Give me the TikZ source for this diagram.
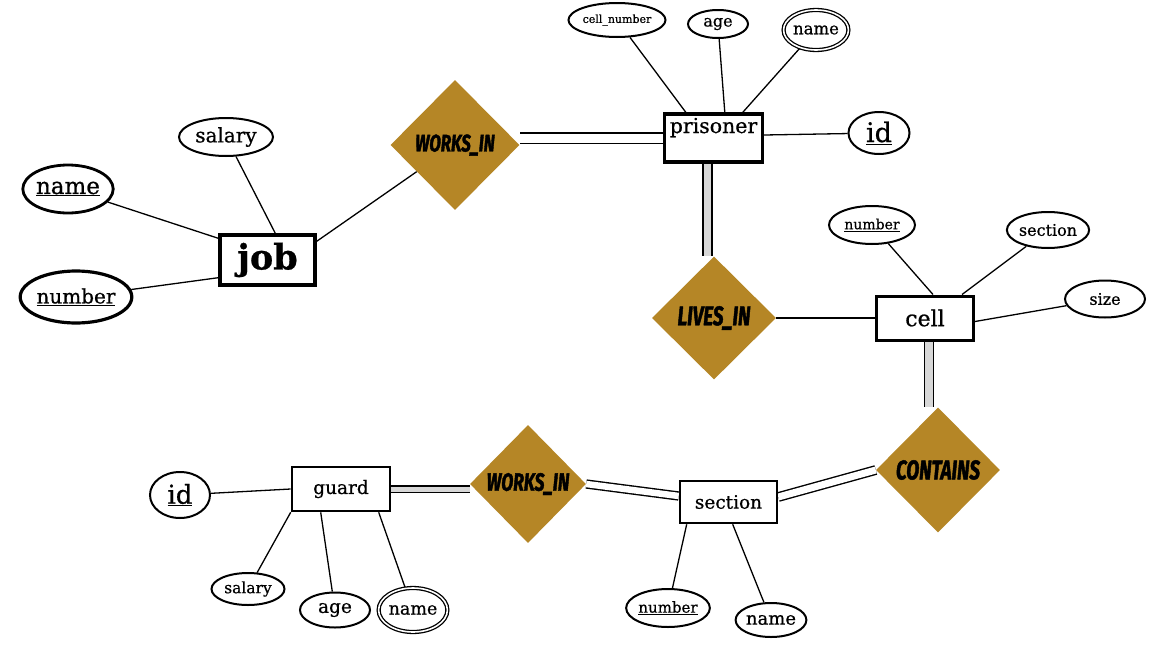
\documentclass[tikz,border=0pt]{standalone}
\usepackage{fontspec}
\setmainfont[FakeBold=0.7]{DejaVu Serif}
\newfontfamily\relfont[FakeStretch=0.7, BoldItalicFeatures={FakeBold=1.6}]{Fira Sans}
\usetikzlibrary{shapes.geometric,backgrounds}
\definecolor{relgold}{RGB}{181,134,38}
\definecolor{coregray}{RGB}{215,215,215}

\tikzset{
  attr/.style={ellipse, draw, line width=2pt, inner sep=0pt},
  multiattr/.style={ellipse, draw, double, double distance=1.6pt, line width=1.3pt, inner sep=0pt},
  entity/.style={rectangle, draw, line width=3pt, inner sep=0pt},
  rel/.style={diamond, fill=relgold, inner sep=0pt},
  link/.style={line width=1.3pt},
  wlink/.style={double, double distance=#1, line width=1.4pt},
  glink/.style={double=coregray, double distance=#1, line width=1.4pt},
}

\begin{document}
\begin{tikzpicture}[x=1pt,y=-1pt]
\useasboundingbox (0,0) rectangle (1152,648);

% entities
\node[entity, line width=3.4pt, minimum width=95pt, minimum height=50pt, font=\fontsize{35}{35}\selectfont\bfseries] (job) at (267.5,260) {job};
\node[entity, line width=3.4pt, minimum width=98pt, minimum height=48pt, text height=16pt, text depth=26pt, font=\fontsize{20.5}{20}\selectfont] (prisoner) at (713.5,138) {prisoner};
\node[entity, minimum width=97pt, minimum height=44pt, font=\fontsize{22}{22}\selectfont] (cell) at (925,318) {cell};
\node[entity, line width=2.6pt, minimum width=97pt, minimum height=42pt, font=\fontsize{18.5}{18}\selectfont] (section) at (728.5,502) {section};
\node[entity, line width=2.6pt, minimum width=98pt, minimum height=44pt, font=\fontsize{18.5}{18}\selectfont] (guard) at (341,489) {guard};

% relationships
\node[rel, minimum width=129pt, minimum height=130pt, font=\relfont\bfseries\itshape\fontsize{24}{24}\selectfont] (worksA) at (455,145) {WORKS\_IN};
\node[rel, minimum width=124pt, minimum height=123pt, font=\relfont\bfseries\itshape\fontsize{27}{27}\selectfont] (lives) at (714,318) {LIVES\_IN};
\node[rel, minimum width=124pt, minimum height=125pt, font=\relfont\bfseries\itshape\fontsize{27}{27}\selectfont] (contains) at (938,470) {CONTAINS};
\node[rel, minimum width=116pt, minimum height=118pt, font=\relfont\bfseries\itshape\fontsize{25}{25}\selectfont] (worksB) at (528,484) {WORKS\_IN};

% attributes of job
\node[attr, minimum width=94pt, minimum height=38pt, font=\fontsize{20}{20}\selectfont] (jsal) at (226,137) {salary};
\node[attr, line width=2.8pt, minimum width=90pt, minimum height=48pt, font=\fontsize{23}{23}\selectfont] (jname) at (68,189) {\underline{name}};
\node[attr, line width=3.2pt, minimum width=104pt, minimum height=52pt, font=\fontsize{20}{20}\selectfont] (jnum) at (76,297) {\underline{number}};

% attributes of prisoner
\node[attr, minimum width=80pt, minimum height=34pt, font=\fontsize{11}{11}\selectfont] (pcn) at (617,20) {cell\_number};
\node[attr, minimum width=60pt, minimum height=28pt, font=\fontsize{16}{16}\selectfont] (page) at (718,24) {age};
\node[multiattr, minimum width=60pt, minimum height=40pt, font=\fontsize{16.5}{16}\selectfont] (pname) at (816,30) {name};
\node[attr, minimum width=61pt, minimum height=42pt, font=\fontsize{27}{27}\selectfont] (pid) at (879,133) {\underline{id}};

% attributes of cell
\node[attr, minimum width=86pt, minimum height=38pt, font=\fontsize{14}{14}\selectfont] (cnum) at (872,225) {\underline{number}};
\node[attr, minimum width=81pt, minimum height=36pt, font=\fontsize{16}{16}\selectfont] (csec) at (1048,230) {section};
\node[attr, minimum width=80pt, minimum height=37pt, font=\fontsize{16}{16}\selectfont] (csize) at (1105,299) {size};

% attributes of guard
\node[attr, minimum width=60pt, minimum height=46pt, font=\fontsize{26}{26}\selectfont] (gid) at (180,495) {\underline{id}};
\node[attr, minimum width=73pt, minimum height=32pt, font=\fontsize{15.5}{15}\selectfont] (gsal) at (248,589) {salary};
\node[attr, minimum width=70pt, minimum height=35pt, font=\fontsize{18.5}{18}\selectfont] (gage) at (335,610) {age};
\node[multiattr, minimum width=64pt, minimum height=44pt, font=\fontsize{17.5}{17}\selectfont] (gname) at (413,610) {name};

% attributes of section
\node[attr, minimum width=77pt, minimum height=38pt, font=\fontsize{15}{15}\selectfont] (snum) at (668,608) {\underline{number}};
\node[attr, minimum width=67pt, minimum height=34pt, font=\fontsize{18}{18}\selectfont] (sname) at (771,620) {name};

\begin{pgfonlayer}{background}
  \fill[white] (0,0) rectangle (1152,648);

  % job
  \draw[link] (jsal) -- ([xshift=57pt]job.north west);
  \draw[link] (jname) -- ([yshift=-5pt]job.north west);
  \draw[link] (jnum) -- ([yshift=9pt]job.south west);
  \draw[link] ([yshift=-8pt]job.north east) -- (worksA);

  % prisoner
  \draw[wlink=9pt] (prisoner.west) -- (prisoner.west -| worksA.east);
  \draw[link] (pcn) -- ([xshift=23pt]prisoner.north west);
  \draw[link] (page) -- ([xshift=62pt]prisoner.north west);
  \draw[link] (pname) -- ([xshift=80pt]prisoner.north west);
  \draw[link] (pid) -- ([yshift=3pt]prisoner.east);
  \draw[glink=7.5pt] ([xshift=-6pt]prisoner.south) -- ([xshift=-6pt]prisoner.south |- lives.north);

  % cell
  \draw[link] (lives.east) -- (cell.west);
  \draw[link] (cnum) -- ([xshift=58pt]cell.north west);
  \draw[link] (csec) -- ([xshift=87pt]cell.north west);
  \draw[link] (csize) -- ([yshift=-27pt]cell.north east);
  \draw[glink=8pt] ([xshift=4pt]cell.south) -- ([xshift=4pt]cell.south |- contains.north);

  % section
  \draw[wlink=7pt] (contains.west) -- ([yshift=5pt]section.east);
  \draw[wlink=6.5pt] (worksB.east) -- ([yshift=6pt]section.west);
  \draw[link] (snum) -- ([xshift=8pt]section.south west);
  \draw[link] (sname) -- ([xshift=54pt]section.south west);

  % guard
  \draw[glink=5pt] (guard.east) -- (guard.east -| worksB.west);
  \draw[link] (gid) -- (guard.west);
  \draw[link] (gsal) -- (guard.south west);
  \draw[link] (gage) -- ([xshift=30pt]guard.south west);
  \draw[link] (gname) -- ([xshift=88pt]guard.south west);
\end{pgfonlayer}
\end{tikzpicture}
\end{document}
